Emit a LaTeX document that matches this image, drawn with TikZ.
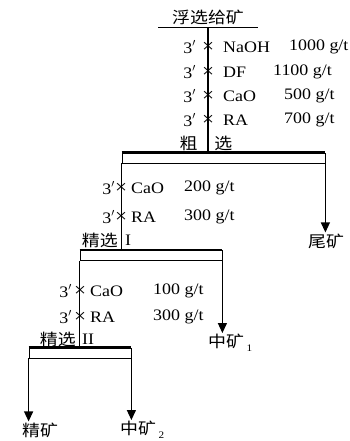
\documentclass[tikz,border=0pt]{standalone}
\usepackage{fontspec}
\setmainfont{Liberation Serif}[FakeStretch=1.12]
\newfontfamily\cjk{Noto Sans CJK SC}[FakeStretch=1.12]
\usetikzlibrary{arrows.meta,positioning,calc}
\newcommand{\subidx}[1]{\,\raisebox{-4pt}{\fontsize{10}{12}\selectfont #1}}

\begin{document}
\begin{tikzpicture}[x=1pt, y=-1pt,
  txt/.style={inner sep=1pt, font=\fontsize{16}{18}\selectfont},
  times/.style={inner sep=1pt, font=\fontsize{19}{20}\selectfont},
  cell/.style={draw, line width=0.8pt, minimum height=10pt, inner sep=0pt},
  celltop/.style={line width=2.4pt},
  flow/.style={line width=1.2pt},
  prod/.style={flow, -{Triangle[length=10pt,width=9pt]}}
]
\useasboundingbox (0,0) rectangle (349,441);
% feed
\node[txt, minimum width=99pt, inner sep=3pt] (feed) at (208,17) {\cjk 浮选给矿};
\draw[line width=1pt] (feed.south west) -- (feed.south east);
% cells
\node[cell, minimum width=203pt] (rough) at (223.5,158) {};
\node[cell, minimum width=142pt] (cl1) at (151,255.5) {};
\node[cell, minimum width=102pt] (cl2) at (80,353) {};
\foreach \c in {rough,cl1,cl2} \draw[celltop] (\c.north west) -- (\c.north east);
% rougher reagents
\foreach \i/\y/\r/\dx/\d in {1/47/NaOH/288/1000, 2/72/DF/272/1100, 3/96/CaO/283/500, 4/120/RA/283/700} {
  \node[txt, anchor=east] (pa\i) at (197,\y) {3$'$};
  \node[times] (xa\i) at (208,\y) {×};
  \node[txt, anchor=west] (ra\i) at (222,\y) {\r};
  \node[txt, anchor=west] (da\i) at (\dx,\y) {\d\ g/t};
}
\node[txt] (rlab) at (206,143) {\cjk 粗\hspace{17pt}选};
\draw[flow] (feed.south) -- (feed.south |- rough.north);
% cleaner I reagents
\foreach \i/\y/\r/\d in {1/188/CaO/200, 2/217/RA/300} {
  \node[txt, anchor=east] (pb\i) at (116,\y) {3$'$};
  \node[times] (xb\i) at (121,\y) {×};
  \node[txt, anchor=west] (rb\i) at (130,\y) {\r};
  \node[txt, anchor=west] (db\i) at (183,\y) {\d\ g/t};
}
\node[txt, anchor=east] (c1a) at (119,240) {\cjk 精选};
\node[txt, anchor=west] (c1b) at (124,240) {I};
% cleaner II reagents
\foreach \i/\y/\r/\d in {1/291/CaO/100, 2/317/RA/300} {
  \node[txt, anchor=east] (pc\i) at (73,\y) {3$'$};
  \node[times] (xc\i) at (80,\y) {×};
  \node[txt, anchor=west] (rc\i) at (89,\y) {\r};
  \node[txt, anchor=west] (dc\i) at (152,\y) {\d\ g/t};
}
\node[txt, anchor=east] (c2a) at (77,339) {\cjk 精选};
\node[txt, anchor=west] (c2b) at (81,339) {II};
% products
\node[txt] (tail) at (326,241) {\cjk 尾矿};
\node[txt, anchor=west] (mid1) at (207,343) {{\cjk 中矿}\subidx{1}};
\node[txt] (conc) at (40,430) {\cjk 精矿};
\node[txt, anchor=west] (mid2) at (119,430) {{\cjk 中矿}\subidx{2}};
% flows
\draw[prod] (rough.south east) -- (rough.south east |- tail.north);
\draw[flow] (rough.south west) -- (rough.south west |- cl1.north);
\draw[prod] (cl1.south east) -- (cl1.south east |- mid1.north);
\draw[flow] (cl1.south west) -- (cl1.south west |- cl2.north);
\draw[prod] (cl2.south west) -- (cl2.south west |- conc.north);
\draw[prod] (cl2.south east) -- (cl2.south east |- mid2.north);
\end{tikzpicture}
\end{document}
